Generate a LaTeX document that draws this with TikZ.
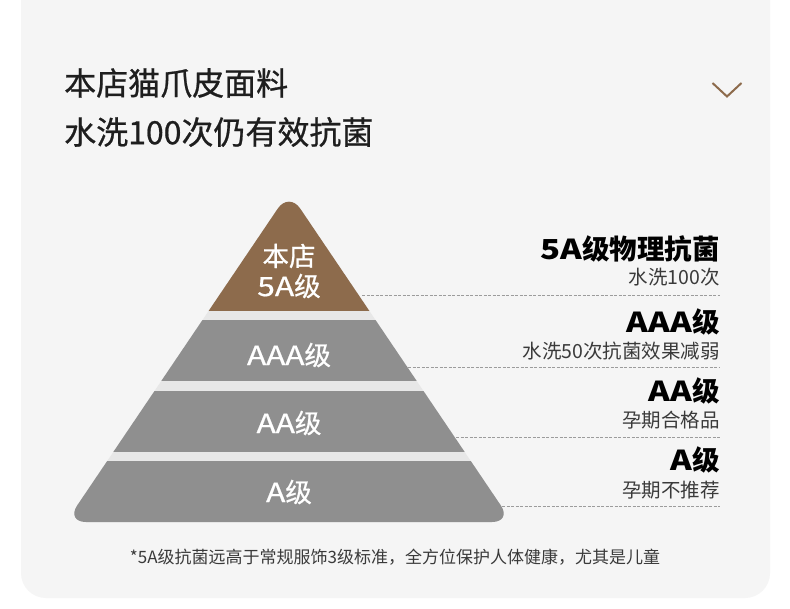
\documentclass[tikz,border=0pt]{standalone}
\usepackage{fontspec}
\setmainfont{Noto Sans CJK SC}
\newfontfamily\mediumcjk{Noto Sans CJK SC}[FakeBold=0.7]
\newcommand{\wideAs}[1]{{\addfontfeature{FakeStretch=1.2}#1}}
\usetikzlibrary{positioning}
\definecolor{panelgrey}{HTML}{F5F5F5}
\definecolor{bandgrey}{HTML}{8F8F8F}
\definecolor{gapgrey}{HTML}{E7E7E7}
\definecolor{toptan}{HTML}{8D6B4C}
\definecolor{inkdark}{HTML}{1E1E1E}
\definecolor{inkmid}{HTML}{3A3A3A}
\definecolor{dashgrey}{HTML}{9C9C9C}
\tikzset{
  headline/.style={anchor=west,inner sep=0pt,text=inkdark,font=\mediumcjk\fontsize{32}{38}\selectfont},
  lvl/.style={inner sep=0pt,text=white,align=center,font=\mediumcjk\fontsize{26.5}{30}\selectfont},
  grade/.style={anchor=east,inner sep=0pt,text=black,font=\bfseries\fontsize{27.5}{32}\selectfont},
  remark/.style={anchor=east,inner sep=0pt,text=inkmid,font=\fontsize{19.5}{24}\selectfont},
  footline/.style={inner sep=0pt,text=inkmid,font=\fontsize{17}{20}\selectfont},
  leader/.style={dashgrey,line width=0.8pt,dash pattern=on 3pt off 1.5pt}
}
\begin{document}
\begin{tikzpicture}[x=1pt,y=-1pt]
\useasboundingbox (0,0) rectangle (790,609);
\fill[white] (0,0) rectangle (790,609);
\fill[panelgrey,rounded corners=25pt] (21,-40) rectangle (770,598);
\node[headline] (title1) at (64,83) {本店猫爪皮面料};
\node[headline] (title2) at (64,132) {水洗100次仍有效抗菌};
\draw[toptan,line width=2pt] (712.5,83) -- (727,96.5) -- (741.5,83);
\begin{scope}
\clip[rounded corners=20pt] (289,192) -- (66,522) -- (512,522) -- cycle;
\fill[gapgrey] (0,180) rectangle (790,530);
\fill[toptan] (0,180) rectangle (790,311);
\fill[bandgrey] (0,320) rectangle (790,381);
\fill[bandgrey] (0,391) rectangle (790,452);
\fill[bandgrey] (0,461) rectangle (790,530);
\end{scope}
\node[lvl] (lv5a) at (289,271) {本店\\\wideAs{5A}级};
\node[lvl] (lv3a) at (289,355) {\wideAs{AAA}级};
\node[lvl] (lv2a) at (289,423) {\wideAs{AA}级};
\node[lvl] (lv1a) at (289,492) {\wideAs{A}级};
\node[grade] (g5a) at (720,249) {\wideAs{5A}级物理抗菌};
\node[remark] (n5a) at (720,277) {水洗100次};
\node[grade] (g3a) at (720,322) {\wideAs{AAA}级};
\node[remark] (n3a) at (720,351) {水洗50次抗菌效果减弱};
\node[grade] (g2a) at (720,391) {\wideAs{AA}级};
\node[remark] (n2a) at (720,420) {孕期合格品};
\node[grade] (g1a) at (720,460) {\wideAs{A}级};
\node[remark] (n1a) at (720,490) {孕期不推荐};
\coordinate (e5a) at (362,295);
\coordinate (r5a) at (720,295);
\coordinate (e3a) at (408,367);
\coordinate (r3a) at (720,367);
\coordinate (e2a) at (456,437);
\coordinate (r2a) at (720,437);
\coordinate (e1a) at (502,506);
\coordinate (r1a) at (720,506);
\draw[leader] (e5a) -- (r5a);
\draw[leader] (e3a) -- (r3a);
\draw[leader] (e2a) -- (r2a);
\draw[leader] (e1a) -- (r1a);
\node[footline] (fn) at (395,557) {*5A级抗菌远高于常规服饰3级标准，全方位保护人体健康，尤其是儿童};
\end{tikzpicture}
\end{document}
